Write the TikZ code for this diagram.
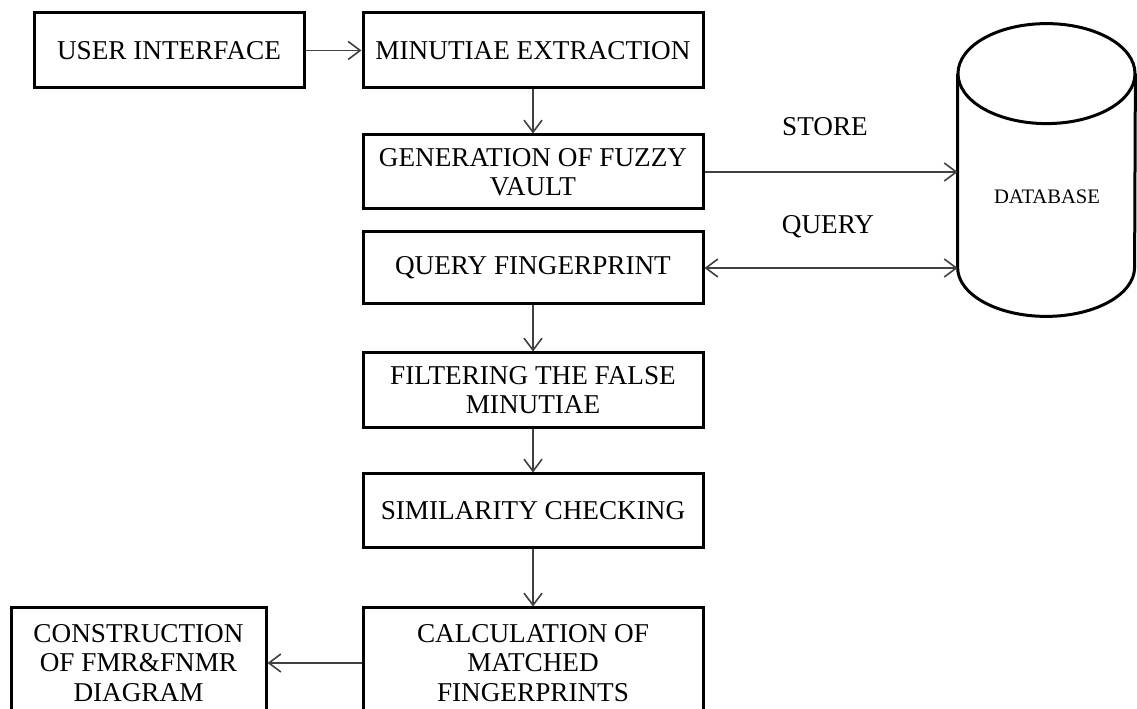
\documentclass[tikz,border=0pt]{standalone}
\usepackage{fontspec}
\setmainfont{Liberation Serif}
\usetikzlibrary{arrows.meta,positioning,calc}

\begin{document}
\begin{tikzpicture}[x=0.5pt, y=0.5pt, font=\fontsize{13.6}{14.6}\selectfont,
   >={Straight Barb[length=6pt,width=9pt]},
   stage/.style={draw, line width=1.5pt, minimum width=170pt, minimum height=37.5pt,
                 align=center, inner sep=2pt},
   link/.style={->, line width=0.8pt, draw=black!75}]
  \clip (0,0) rectangle (1137,708);
  \node[stage, minimum width=135pt] (ui)     at (169,657.5) {USER INTERFACE};
  \node[stage]                      (minut)  at (533,657.5) {MINUTIAE EXTRACTION};
  \node[stage, minimum height=37pt] (vault)  at (533,536)   {GENERATION OF FUZZY\\VAULT};
  \node[stage, minimum height=36pt] (qfp)    at (533,440)   {QUERY FINGERPRINT};
  \node[stage]                      (filt)   at (533,317.5) {FILTERING THE FALSE\\MINUTIAE};
  \node[stage, minimum height=37pt] (simchk) at (533,197)   {SIMILARITY CHECKING};
  \node[stage, minimum height=55pt] (calc)   at (533,45)    {CALCULATION OF\\MATCHED\\FINGERPRINTS};
  \node[stage, minimum width=127.5pt, minimum height=55pt] (fmr) at (138.5,45)
       {CONSTRUCTION\\OF FMR\&FNMR\\DIAGRAM};
  \node[minimum width=88.5pt, minimum height=96.5pt, inner sep=0pt] (db) at (1046.5,537.5) {};
  \node[font=\fontsize{10.3}{12}\selectfont] (dbname) at (1047,511) {DATABASE};
  \draw[line width=1.5pt] (db.north west) -- (db.south west)
       arc[start angle=180, end angle=360, x radius=44.25pt, y radius=24.5pt] -- (db.north east);
  \draw[line width=1.5pt] (db.north) ellipse[x radius=44.25pt, y radius=25pt];
  \draw[link] (ui) -- (minut);
  \draw[link] (minut) -- (vault);
  \draw[link] (vault.east) -- (vault.east -| db.west);
  \draw[link, <->] (qfp.east) -- (qfp.east -| db.west);
  \draw[link] (qfp) -- (filt);
  \draw[link] (filt) -- (simchk);
  \draw[link] (simchk) -- (calc);
  \draw[link] (calc) -- (fmr);
  \node (store) at (825,581) {STORE};
  \node (query) at (828,481) {QUERY};
\end{tikzpicture}
\end{document}
